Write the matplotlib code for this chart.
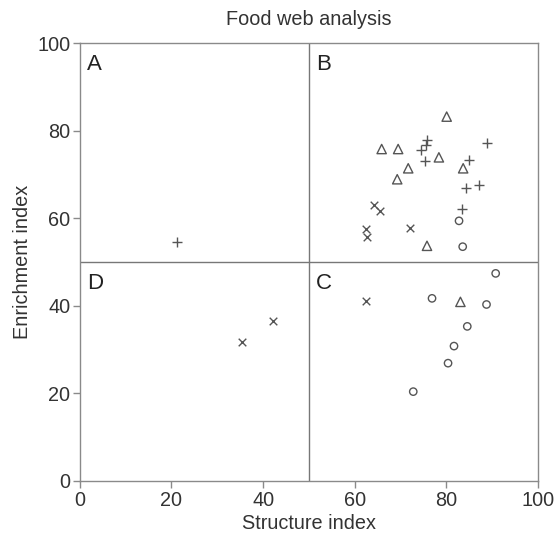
import matplotlib
matplotlib.use("Agg")
import matplotlib.pyplot as plt

plt.rcParams['font.family'] = ['Liberation Sans', 'DejaVu Sans']

# Data (Structure index, Enrichment index)
tri_x = [80.1, 65.9, 69.5, 78.4, 71.7, 83.7, 69.3, 75.8, 83.1]
tri_y = [83.2, 75.8, 75.8, 73.9, 71.4, 71.4, 68.9, 53.7, 40.9]

plus_x = [75.7, 75.5, 74.6, 89.0, 75.3, 85.0, 87.1, 84.3, 83.5, 21.3]
plus_y = [77.9, 76.7, 75.6, 77.1, 73.1, 73.3, 67.6, 66.8, 62.1, 54.5]

circ_x = [82.8, 83.6, 90.8, 76.9, 88.8, 84.6, 81.7, 80.4, 72.8]
circ_y = [59.4, 53.5, 47.4, 41.7, 40.3, 35.3, 30.8, 26.9, 20.4]

cross_x = [64.2, 65.5, 62.4, 62.8, 72.1, 62.4, 42.2, 35.4]
cross_y = [63.0, 61.6, 57.5, 55.8, 57.7, 41.2, 36.5, 31.7]

quadrant_labels = ['A', 'B', 'C', 'D']
x_ticks = [0, 20, 40, 60, 80, 100]
y_ticks = [0, 20, 40, 60, 80, 100]

fig = plt.figure(figsize=(5.55, 5.38), dpi=100)
ax = fig.add_axes([0.144, 0.106, 0.825, 0.814])

mc = '#555555'
spc = '#8a8a8a'
tc = '#333333'
fs = 14.3
ax.scatter(tri_x, tri_y, marker='^', s=45, facecolors='none', edgecolors=mc, linewidths=1.0)
ax.scatter(plus_x, plus_y, marker='+', s=60, c=mc, linewidths=1.0)
ax.scatter(circ_x, circ_y, marker='o', s=28, facecolors='none', edgecolors=mc, linewidths=1.0)
ax.scatter(cross_x, cross_y, marker='x', s=30, c=mc, linewidths=1.0)

ax.axvline(50, color='#777777', lw=1.0)
ax.axhline(50, color='#777777', lw=1.0)

ax.set_xlim(0, 100)
ax.set_ylim(0, 100)
ax.set_xticks(x_ticks)
ax.set_yticks(y_ticks)
for s in ax.spines.values():
    s.set_color(spc)
    s.set_linewidth(1.0)
ax.tick_params(colors=spc, labelcolor=tc, labelsize=fs, length=5, width=1.0, direction='out', pad=2)

ax.set_xlabel('Structure index', fontsize=fs, color=tc, labelpad=3)
ax.set_ylabel('Enrichment index', fontsize=fs, color=tc, labelpad=4)
ax.set_title('Food web analysis', fontsize=fs, color=tc, pad=13)

pos = [(1.5, 97.5), (51.5, 97.5), (51.5, 47.5), (1.5, 47.5)]
for lab, (px, py) in zip(quadrant_labels, pos):
    ax.text(px, py, lab, fontsize=16, color='#222222', va='top', ha='left')

fig.savefig('out.png', dpi=100)
